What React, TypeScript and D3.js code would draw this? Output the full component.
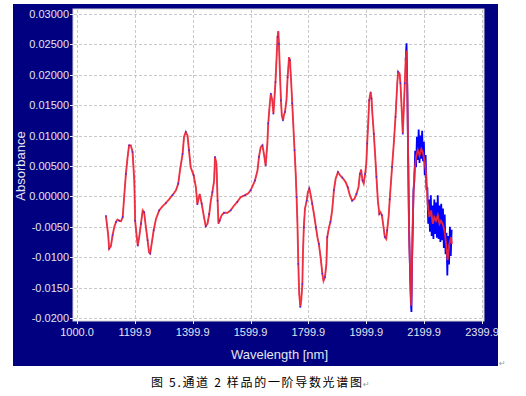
import { useEffect, useRef } from 'react';
import * as d3 from 'd3';

// first-derivative spectrum, channel 2
const wavelengths = [
  1100, 1108, 1111, 1117, 1123, 1129, 1135, 1140, 1146, 1152,
  1158, 1163, 1169, 1175, 1180, 1186, 1192, 1198, 1201, 1206,
  1210, 1215, 1221, 1227, 1232, 1238, 1244, 1249, 1253, 1258,
  1265, 1273, 1284, 1296, 1307, 1318, 1330, 1342, 1350, 1356,
  1365, 1370, 1376, 1382, 1387, 1393, 1403, 1411, 1416, 1424,
  1431, 1439, 1445, 1451, 1457, 1462, 1468, 1474, 1477, 1482,
  1486, 1489, 1493, 1500, 1508, 1520, 1531, 1543, 1554, 1566,
  1581, 1592, 1600, 1608, 1615, 1624, 1629, 1635, 1641, 1646,
  1652, 1658, 1661, 1666, 1670, 1675, 1679, 1682, 1686, 1690,
  1693, 1696, 1698, 1702, 1705, 1708, 1712, 1715, 1719, 1724,
  1728, 1733, 1736, 1740, 1744, 1748, 1752, 1756, 1759, 1762,
  1765, 1768, 1772, 1775, 1779, 1781, 1784, 1788, 1794, 1798,
  1803, 1807, 1813, 1819, 1826, 1831, 1836, 1842, 1848, 1852,
  1857, 1862, 1865, 1871, 1876, 1882, 1888, 1894, 1902, 1909,
  1917, 1928, 1936, 1943, 1951, 1959, 1966, 1973, 1978, 1982,
  1987, 1991, 1996, 2000, 2003, 2007, 2010, 2015, 2018, 2021,
  2026, 2031, 2035, 2040, 2045, 2049, 2054, 2058, 2064, 2069,
  2072, 2077, 2081, 2084, 2089, 2095, 2101, 2107, 2110, 2115,
  2118, 2122, 2126, 2129, 2133, 2136, 2139, 2142, 2145, 2147,
  2149, 2153, 2155, 2157, 2159
];

const absorbance = [
  -0.0032, -0.0064, -0.0086, -0.0082, -0.0064, -0.0050, -0.0042, -0.0038, -0.0040, -0.0041,
  -0.0034, -0.0001, 0.0037, 0.0065, 0.0084, 0.0084, 0.0073, 0.0026, -0.0040, -0.0064,
  -0.0081, -0.0067, -0.0045, -0.0023, -0.0026, -0.0050, -0.0072, -0.0092, -0.0094, -0.0078,
  -0.0056, -0.0037, -0.0023, -0.0016, -0.0011, -0.0005, 0.0002, 0.0010, 0.0021, 0.0043,
  0.0070, 0.0098, 0.0106, 0.0100, 0.0076, 0.0048, 0.0035, 0.0015, -0.0013, 0.0004,
  -0.0012, -0.0034, -0.0049, -0.0045, -0.0029, -0.0009, 0.0007, 0.0026, 0.0065, 0.0054,
  -0.0007, -0.0045, -0.0040, -0.0031, -0.0027, -0.0027, -0.0023, -0.0015, -0.0009, -0.0001,
  0.0002, 0.0005, 0.0010, 0.0018, 0.0026, 0.0043, 0.0065, 0.0081, 0.0084, 0.0070,
  0.0051, 0.0087, 0.0120, 0.0150, 0.0169, 0.0158, 0.0136, 0.0158, 0.0188, 0.0229,
  0.0262, 0.0272, 0.0251, 0.0196, 0.0158, 0.0133, 0.0125, 0.0133, 0.0139, 0.0158,
  0.0196, 0.0229, 0.0224, 0.0191, 0.0153, 0.0114, 0.0076, 0.0037, -0.0001, -0.0045,
  -0.0111, -0.0160, -0.0182, -0.0171, -0.0144, -0.0094, -0.0051, -0.0020, -0.0007, 0.0007,
  0.0013, 0.0004, -0.0012, -0.0029, -0.0051, -0.0067, -0.0078, -0.0100, -0.0127, -0.0139,
  -0.0133, -0.0111, -0.0067, -0.0051, -0.0042, -0.0023, 0.0010, 0.0029, 0.0040, 0.0035,
  0.0031, 0.0024, 0.0015, 0.0002, -0.0007, -0.0004, 0.0004, 0.0015, 0.0037, 0.0044,
  0.0026, 0.0021, 0.0037, 0.0054, 0.0087, 0.0125, 0.0158, 0.0172, 0.0161, 0.0136,
  0.0103, 0.0065, 0.0032, -0.0007, -0.0029, -0.0026, -0.0031, -0.0045, -0.0067, -0.0070,
  -0.0056, -0.0034, -0.0005, 0.0015, 0.0048, 0.0087, 0.0131, 0.0186, 0.0205, 0.0202,
  0.0186, 0.0147, 0.0103, 0.0136, 0.0186, 0.0224, 0.0240, 0.0163, 0.0054, -0.0029,
  -0.0083, -0.0144, -0.0180, -0.0144, -0.0067
];

// smoothed (red) end of the spectrum
const redTailWl = [
  2163, 2166, 2172, 2178, 2184, 2190, 2195, 2201, 2207, 2212, 2218, 2224, 2230,
  2235, 2241, 2247, 2253, 2258, 2264, 2270, 2276, 2281, 2287, 2293, 2296
];
const redTailAbs = [
  -0.0001, 0.0037, 0.0065, 0.0076, 0.0067, 0.0078, 0.0073, 0.0059, 0.0037, -0.0012, -0.0034, -0.0023, -0.0045,
  -0.0034, -0.0040, -0.0031, -0.0045, -0.0040, -0.0045, -0.0056, -0.0078, -0.0105, -0.0078, -0.0067, -0.0078
];

// raw (blue) end of the spectrum, noisy
const blueTailWl = [
  2136, 2139, 2142, 2145, 2148, 2151, 2154, 2156, 2158,
  2160, 2163, 2166, 2169, 2172, 2175, 2178, 2181, 2184, 2187, 2190, 2193, 2196, 2199,
  2202, 2205, 2208, 2211, 2214, 2217, 2220, 2223, 2226, 2229, 2232, 2235, 2238, 2241,
  2244, 2247, 2250, 2253, 2256, 2259, 2262, 2265, 2268, 2271, 2274, 2277, 2280, 2283,
  2286, 2289, 2292, 2295
];
const blueTailAbs = [
  0.0224, 0.0252, 0.0170, 0.0050, -0.0060, -0.0120, -0.0175, -0.0190, -0.0110,
  -0.0070, 0.0010, 0.0025, 0.0075, 0.0048, 0.0098, 0.0060, 0.0110, 0.0055, 0.0100, 0.0062, 0.0108, 0.0058, 0.0090,
  0.0035, 0.0068, 0.0010, 0.0015, -0.0045, -0.0005, -0.0058, 0.0002, -0.0065, -0.0015, -0.0070, -0.0005, -0.0062, -0.0010,
  -0.0068, 0.0002, -0.0070, -0.0015, -0.0075, -0.0012, -0.0072, -0.0020, -0.0085, -0.0030, -0.0095, -0.0060, -0.0130, -0.0065,
  -0.0112, -0.0050, -0.0098, -0.0055
];

const xTicks = [1000, 1199.9, 1399.9, 1599.9, 1799.9, 1999.9, 2199.9, 2399.9];
const xTickLabels = ['1000.0', '1199.9', '1399.9', '1599.9', '1799.9', '1999.9', '2199.9', '2399.9'];
const yTicks = [0.03, 0.025, 0.02, 0.015, 0.01, 0.005, 0, -0.005, -0.01, -0.015, -0.02];
const yTickLabels = ['0.03000', '0.02500', '0.02000', '0.01500', '0.01000', '0.00500', '0.00000',
  '-0.0050', '-0.0100', '-0.0150', '-0.0200'];

const caption = '图 5.通道 2 样品的一阶导数光谱图';

export default function App() {
  const svgRef = useRef<SVGSVGElement>(null);

  useEffect(() => {
    if (!svgRef.current) return;
    const svg = d3.select(svgRef.current);
    svg.selectAll('*').remove();

    const width = 526;
    const height = 396;
    const plot = { left: 73, top: 9, right: 484, bottom: 321 };
    const labelFont = '"Liberation Sans", Arial, sans-serif';
    const labelColor = '#e4e4ee';

    const x = d3.scaleLinear().domain([1000, 2399.9]).range([77, 482]);
    const y = d3.scaleLinear().domain([-0.02, 0.03]).range([318, 14]);

    svg.append('rect').attr('width', width).attr('height', height).attr('fill', 'white');

    // navy frame
    svg.append('rect')
      .attr('x', 13).attr('y', 4).attr('width', 485).attr('height', 362)
      .attr('fill', '#000080');

    // plot area
    svg.append('rect')
      .attr('x', plot.left).attr('y', plot.top)
      .attr('width', plot.right - plot.left).attr('height', plot.bottom - plot.top)
      .attr('fill', 'white').attr('stroke', '#d4d4d4');

    // grid
    const grid = svg.append('g')
      .attr('stroke', '#c8c8c8').attr('stroke-dasharray', '3,2').attr('stroke-width', 1);
    grid.selectAll('.gx').data(xTicks).enter().append('line')
      .attr('x1', d => Math.round(x(d)) + 0.5).attr('x2', d => Math.round(x(d)) + 0.5)
      .attr('y1', plot.top + 1).attr('y2', plot.bottom - 1);
    grid.selectAll('.gy').data(yTicks).enter().append('line')
      .attr('y1', d => Math.round(y(d)) + 0.5).attr('y2', d => Math.round(y(d)) + 0.5)
      .attr('x1', plot.left + 1).attr('x2', plot.right - 1);

    // ticks
    const ticks = svg.append('g').attr('stroke', labelColor).attr('stroke-width', 1);
    ticks.selectAll('.ty').data(yTicks).enter().append('line')
      .attr('x1', plot.left - 3).attr('x2', plot.left)
      .attr('y1', d => Math.round(y(d)) + 0.5).attr('y2', d => Math.round(y(d)) + 0.5);
    ticks.selectAll('.tx').data(xTicks).enter().append('line')
      .attr('x1', d => Math.round(x(d)) + 0.5).attr('x2', d => Math.round(x(d)) + 0.5)
      .attr('y1', plot.bottom).attr('y2', plot.bottom + 3);

    // tick labels
    svg.append('g').selectAll('text').data(yTicks).enter().append('text')
      .attr('x', 69).attr('y', d => y(d)).attr('dy', '0.36em')
      .attr('text-anchor', 'end').attr('fill', labelColor)
      .style('font-family', labelFont).style('font-size', '11px')
      .text((_, i) => yTickLabels[i]);
    svg.append('g').selectAll('text').data(xTicks).enter().append('text')
      .attr('x', d => x(d)).attr('y', 335.5)
      .attr('text-anchor', 'middle').attr('fill', labelColor)
      .style('font-family', labelFont).style('font-size', '11px')
      .text((_, i) => xTickLabels[i]);

    // axis titles
    svg.append('text')
      .attr('x', (x.range()[0] + x.range()[1]) / 2).attr('y', 359)
      .attr('text-anchor', 'middle').attr('fill', labelColor)
      .style('font-family', labelFont).style('font-size', '13px')
      .text('Wavelength [nm]');
    svg.append('text')
      .attr('transform', `translate(25,${(y.range()[0] + y.range()[1]) / 2}) rotate(-90)`)
      .attr('text-anchor', 'middle').attr('fill', labelColor)
      .style('font-family', labelFont).style('font-size', '13px')
      .text('Absorbance');

    // series
    svg.append('clipPath').attr('id', 'plot-clip').append('rect')
      .attr('x', plot.left).attr('y', plot.top)
      .attr('width', plot.right - plot.left).attr('height', plot.bottom - plot.top);

    const main = wavelengths.map((w, i) => ({ w, v: absorbance[i] }));
    const blueMain = main.filter(d => d.w <= blueTailWl[0]);
    const blueTail = blueTailWl.map((w, i) => ({ w, v: blueTailAbs[i] }));
    const redData = main.concat(redTailWl.map((w, i) => ({ w, v: redTailAbs[i] })));

    const line = d3.line<{ w: number; v: number }>()
      .x(d => x(d.w)).y(d => y(d.v));

    const series = svg.append('g').attr('clip-path', 'url(#plot-clip)');
    series.append('path').datum(blueMain)
      .attr('d', line).attr('fill', 'none')
      .attr('stroke', '#0000ff').attr('stroke-width', 0.8);
    series.append('path').datum(blueTail)
      .attr('d', line).attr('fill', 'none')
      .attr('stroke', '#0000ff').attr('stroke-width', 1.8);
    series.append('path').datum(redData)
      .attr('d', line).attr('fill', 'none')
      .attr('stroke', '#ff2a2a').attr('stroke-width', 1.9).attr('stroke-opacity', 0.88);
    series.selectAll('.pt').data(blueMain.filter((_, i) => i % 2 === 0)).enter().append('rect')
      .attr('x', d => x(d.w) - 0.8).attr('y', d => y(d.v) - 0.8)
      .attr('width', 1.6).attr('height', 1.6)
      .attr('fill', '#2222ff').attr('fill-opacity', 0.75);

    // caption and Word paragraph marks
    svg.append('text')
      .attr('x', 151).attr('y', 386.5)
      .attr('textLength', 211).attr('lengthAdjust', 'spacing')
      .attr('fill', '#000')
      .style('font-family', '"Noto Sans CJK SC", sans-serif').style('font-size', '12px')
      .text(caption);
    svg.append('text')
      .attr('x', 363).attr('y', 387).attr('fill', '#999')
      .style('font-family', '"DejaVu Sans", sans-serif').style('font-size', '8px')
      .text('↵');
    svg.append('text')
      .attr('x', 499).attr('y', 366).attr('fill', '#999')
      .style('font-family', '"DejaVu Sans", sans-serif').style('font-size', '8px')
      .text('↵');
  }, []);

  return (
    <svg
      ref={svgRef}
      width={526}
      height={396}
      style={{ position: 'absolute', left: 0, top: 0, display: 'block' }}
    />
  );
}
